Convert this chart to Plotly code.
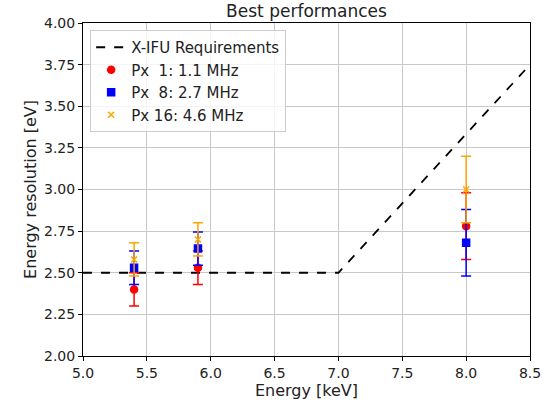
import plotly.graph_objects as go

energies = [5.4, 5.9, 8.0]
px1_res = [2.40, 2.53, 2.78]
px1_err = [0.10, 0.10, 0.20]
px8_res = [2.53, 2.645, 2.68]
px8_err = [0.10, 0.10, 0.20]
px16_res = [2.58, 2.70, 3.00]
px16_err = [0.10, 0.10, 0.20]
req_energy = [5.0, 7.0, 8.5]
req_res = [2.5, 2.5, 3.75]

font_family = "DejaVu Sans"
W, H = 551, 406
fig = go.Figure()
fig.add_trace(go.Scatter(x=req_energy, y=req_res, mode="lines",
                         line=dict(color="black", dash="dash", width=1.8),
                         name="X-IFU Requirements"))

series = [
    ("Px  1: 1.1 MHz", px1_res, px1_err, "red", "circle", 7),
    ("Px  8: 2.7 MHz", px8_res, px8_err, "blue", "square", 7),
    ("Px 16: 4.6 MHz", px16_res, px16_err, "orange", "x-thin-open", 6),
]
for name, vals, errs, col, sym, sz in series:
    fig.add_trace(go.Scatter(
        x=energies, y=vals, mode="markers", name=name,
        marker=dict(color=col, symbol=sym, size=sz, line=dict(color=col, width=1.5)),
        error_y=dict(type="data", array=errs, visible=True, color=col, thickness=1.5, width=5)))

axis_common = dict(showline=True, linecolor="black", linewidth=1, mirror=True,
                   ticks="outside", ticklen=4, tickcolor="black", automargin=False,
                   showgrid=True, gridcolor="#c8c8c8", gridwidth=1, zeroline=False,
                   tickfont=dict(size=14, color="#222", family=font_family))
fig.update_xaxes(range=[5.0, 8.5], tickvals=[5.0, 5.5, 6.0, 6.5, 7.0, 7.5, 8.0, 8.5],
                 tickformat=".1f", title=dict(text="Energy [keV]", font=dict(size=16, family=font_family, color="#222"), standoff=4),
                 **axis_common)
fig.update_yaxes(range=[2.0, 4.0], tickvals=[2.0, 2.25, 2.5, 2.75, 3.0, 3.25, 3.5, 3.75, 4.0],
                 tickformat=".2f", title=dict(text="Energy resolution [eV]", font=dict(size=16, family=font_family, color="#222"), standoff=3),
                 **axis_common)

fig.update_layout(
    width=W, height=H,
    margin=dict(l=83, r=21, t=23, b=50, autoexpand=False),
    plot_bgcolor="white", paper_bgcolor="white",
    font=dict(family=font_family, color="#222"),
    title=dict(text="Best performances", x=(83 + 530) / 2 / W, xanchor="center",
               y=1 - 11 / H, yanchor="middle", yref="container", automargin=False,
               font=dict(size=17, family=font_family, color="#222")),
    legend=dict(x=0.016, y=0.979, xanchor="left", yanchor="top",
                bgcolor="rgba(255,255,255,0.8)", bordercolor="#cccccc", borderwidth=1,
                font=dict(size=15, family=font_family, color="#222"), tracegroupgap=0),
    showlegend=True,
)
fig.write_html("out.html", config={"displayModeBar": False},
               post_script="document.body.style.margin='0';document.body.style.overflow='hidden';")
